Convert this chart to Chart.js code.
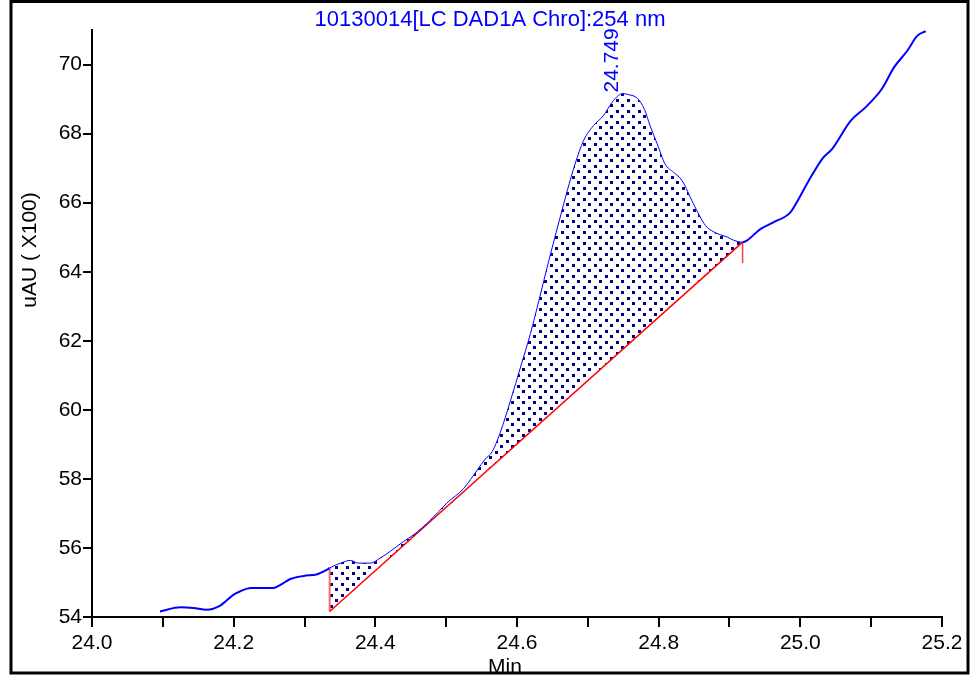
<!DOCTYPE html>
<html>
<head>
<meta charset="utf-8">
<script src="https://cdn.jsdelivr.net/npm/chart.js@4/dist/chart.umd.min.js"></script>
<style>
  html, body { margin: 0; padding: 0; background: #fff; }
  canvas { display: block; }
</style>
</head>
<body>
<canvas id="chrom" width="974" height="675"></canvas>
<script>
// Retention time (min) and detector signal (uAU x100) of the chromatogram trace
const timeMin = [24.096, 24.125, 24.143, 24.162, 24.181, 24.200, 24.209, 24.224, 24.256, 24.266,
  24.280, 24.299, 24.318, 24.332, 24.3355, 24.351, 24.365, 24.376, 24.393, 24.407,
  24.421, 24.440, 24.454, 24.478, 24.501, 24.525, 24.544, 24.555, 24.565, 24.576,
  24.591, 24.605, 24.619, 24.631, 24.645, 24.661, 24.671, 24.682, 24.694, 24.708,
  24.722, 24.734, 24.743, 24.749, 24.757, 24.770, 24.780, 24.788, 24.798, 24.809,
  24.821, 24.833, 24.849, 24.866, 24.878, 24.897, 24.906, 24.9185, 24.925, 24.944,
  24.962, 24.986, 24.995, 25.012, 25.031, 25.045, 25.071, 25.092, 25.115, 25.132,
  25.151, 25.165, 25.177];
const signal = [54.16, 54.28, 54.26, 54.21, 54.33, 54.65, 54.74, 54.84, 54.84, 54.93,
  55.10, 55.19, 55.24, 55.37, 55.42, 55.56, 55.64, 55.56, 55.56, 55.71,
  55.90, 56.19, 56.38, 56.81, 57.30, 57.73, 58.26, 58.57, 58.79, 59.32,
  60.28, 61.24, 62.21, 63.17, 64.33, 65.58, 66.35, 67.12, 67.80, 68.23,
  68.52, 68.90, 69.10, 69.16, 69.13, 69.02, 68.70, 68.22, 67.70, 67.12,
  66.88, 66.64, 65.97, 65.34, 65.15, 65.00, 64.91, 64.855, 64.91, 65.24,
  65.43, 65.72, 66.01, 66.64, 67.27, 67.56, 68.37, 68.76, 69.29, 69.91,
  70.40, 70.83, 70.97];

// Integration baseline of the peak (start / end)
const baselineTime = [24.3355, 24.9185];
const baselineSignal = [54.16, 64.855];
const endMarkerLow = 64.25;

// Peak apex retention time
const peakTime = 24.749;

// Axis ticks
const xTickLabels = ['24.0', '24.2', '24.4', '24.6', '24.8', '25.0', '25.2'];
const yTickLabels = ['54', '56', '58', '60', '62', '64', '66', '68', '70'];

const titleText = '10130014[LC DAD1A Chro]:254 nm';
const yTitleText = 'uAU ( X100)';
const xTitleText = 'Min';

const FONT = "'Liberation Sans', Arial, sans-serif";

const trace = timeMin.map((t, i) => ({ x: t, y: signal[i] }));
const peakArea = trace.filter(p => p.x >= baselineTime[0] && p.x <= baselineTime[1]);
const baseline = baselineTime.map((t, i) => ({ x: t, y: baselineSignal[i] }));
const startMarker = [
  { x: baselineTime[0], y: signal[timeMin.indexOf(baselineTime[0])] },
  { x: baselineTime[0], y: baselineSignal[0] }
];
const endMarker = [
  { x: baselineTime[1], y: baselineSignal[1] },
  { x: baselineTime[1], y: endMarkerLow }
];

// Dotted hatch used for the integrated area
function dotPattern() {
  const c = document.createElement('canvas');
  c.width = 11; c.height = 11;
  const g = c.getContext('2d');
  g.fillStyle = '#000080';
  g.fillRect(0, 0, 3, 3);
  g.fillRect(5, 5, 3, 3);
  return g.createPattern(c, 'repeat');
}

const decorations = {
  id: 'decorations',
  afterDraw(chart) {
    const ctx = chart.ctx;
    const xs = chart.scales.x, ys = chart.scales.y;
    ctx.save();

    // title
    ctx.font = '22px ' + FONT;
    ctx.fillStyle = '#0000ff';
    ctx.textAlign = 'center';
    ctx.textBaseline = 'alphabetic';
    ctx.fillText(titleText, 490, 26);

    // peak retention label
    ctx.font = '21px ' + FONT;
    const peakIdx = timeMin.indexOf(peakTime);
    const px = xs.getPixelForValue(peakTime);
    const py = ys.getPixelForValue(signal[peakIdx]);
    ctx.save();
    ctx.translate(px - 5, py - 1);
    ctx.rotate(-Math.PI / 2);
    ctx.textAlign = 'left';
    ctx.fillText(peakTime.toFixed(3), 0, 0);
    ctx.restore();

    // axis titles
    ctx.fillStyle = '#000';
    ctx.save();
    ctx.translate(36, 250);
    ctx.rotate(-Math.PI / 2);
    ctx.textAlign = 'center';
    ctx.fillText(yTitleText, 0, 0);
    ctx.restore();
    ctx.textAlign = 'center';
    ctx.fillText(xTitleText, 505, 673);

    // outer frame
    ctx.strokeStyle = '#000';
    ctx.lineWidth = 3;
    ctx.strokeRect(11, 1.5, 957, 671.5);
    ctx.restore();
  }
};

const ctx = document.getElementById('chrom').getContext('2d');
new Chart(ctx, {
  type: 'line',
  data: {
    datasets: [
      {
        data: trace,
        borderColor: '#0000ff',
        borderWidth: 2,
        segment: {
          borderWidth: c => (c.p0.parsed.x >= baselineTime[0] && c.p1.parsed.x <= baselineTime[1]) ? 1 : 2
        },
        cubicInterpolationMode: 'monotone',
        pointRadius: 0,
        fill: false
      },
      {
        data: baseline,
        borderColor: '#ff0000',
        borderWidth: 1.5,
        pointRadius: 0,
        fill: false
      },
      {
        data: startMarker,
        borderColor: '#ff6a6a',
        borderWidth: 2,
        pointRadius: 0,
        fill: false
      },
      {
        data: endMarker,
        borderColor: '#ff4040',
        borderWidth: 1.5,
        pointRadius: 0,
        fill: false
      },
      {
        data: peakArea,
        borderWidth: 0,
        borderColor: 'rgba(0,0,0,0)',
        backgroundColor: dotPattern(),
        cubicInterpolationMode: 'monotone',
        pointRadius: 0,
        fill: 1
      }
    ]
  },
  options: {
    responsive: false,
    animation: false,
    devicePixelRatio: 1,
    layout: { padding: { top: 30, right: 32, left: 0, bottom: 0 } },
    plugins: { legend: { display: false }, tooltip: { enabled: false }, title: { display: false } },
    scales: {
      x: {
        type: 'linear',
        min: 24.0,
        max: 25.2,
        afterFit(s) { s.height = 58; },
        border: { display: true, color: '#000', width: 2 },
        grid: { drawOnChartArea: false, drawTicks: true, tickLength: 10, color: '#000', lineWidth: 2 },
        ticks: {
          stepSize: 0.1,
          autoSkip: false,
          maxRotation: 0,
          color: '#000',
          padding: 4,
          font: { family: FONT, size: 21 },
          callback: v => {
            const k = Math.round(v * 10);
            if (k % 2 !== 0) return '';
            const label = (k / 10).toFixed(1);
            return xTickLabels.includes(label) ? label : '';
          }
        }
      },
      y: {
        min: 54,
        max: 71,
        afterFit(s) { s.width = 92; },
        border: { display: true, color: '#000', width: 2 },
        grid: { drawOnChartArea: false, drawTicks: true, tickLength: 9, color: '#000', lineWidth: 2 },
        ticks: {
          stepSize: 2,
          includeBounds: false,
          color: '#000',
          padding: 1,
          font: { family: FONT, size: 21 },
          callback: v => {
            const label = String(Math.round(v));
            return yTickLabels.includes(label) ? label : '';
          }
        }
      }
    }
  },
  plugins: [decorations]
});
</script>
</body>
</html>
